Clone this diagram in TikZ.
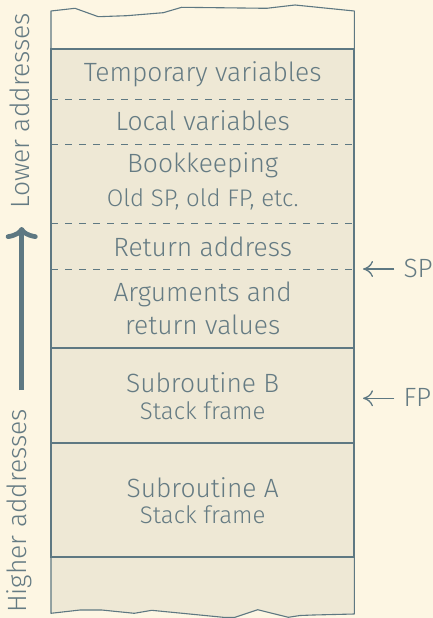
\documentclass[tikz,border=0pt]{standalone}
\usepackage{fontspec}
\setmainfont{Fira Sans}[UprightFont={* Light}]
\usetikzlibrary{arrows.meta}
\definecolor{paper}{HTML}{FDF6E3}
\definecolor{cell}{HTML}{EEE8D5}
\definecolor{ink}{HTML}{657B83}
\definecolor{rule}{HTML}{5E7882}
\begin{document}
\begin{tikzpicture}[x=1pt,y=-1pt,
  every node/.style={text=ink, inner sep=0pt},
  big/.style={font=\fontsize{26.4}{30}\selectfont, anchor=base},
  small/.style={font=\fontsize{24}{27}\selectfont, anchor=base},
  divider/.style={draw=rule, line width=1.8pt},
  dashdiv/.style={draw=rule, line width=1pt, dash pattern=on 7pt off 7pt},
  torn/.style={draw=rule, line width=1.1pt, line join=round},
  pointer/.style={draw=rule, line width=1.3pt,
    -{Computer Modern Rightarrow[length=10pt,width=16pt]}}]
\fill[paper] (0,0) rectangle (433,618);
\useasboundingbox (0,0) rectangle (433,618);

% torn-off continuation below the frames
\fill[cell] (51,557.3) -- (51,613.3) -- (80,610) -- (101.7,610) -- (134.3,613.3)
  -- (151.7,610.3) -- (223.3,617.3) -- (235,617.3) -- (257.7,609.7) -- (288.3,617.3)
  -- (300,615.5) -- (313.3,615) -- (354.3,614) -- (354.3,557.3) -- cycle;
\draw[torn] (51,557.3) -- (51,613.3) -- (80,610) -- (101.7,610) -- (134.3,613.3)
  -- (151.7,610.3) -- (223.3,617.3) -- (235,617.3) -- (257.7,609.7) -- (288.3,617.3)
  -- (300,615.5) -- (313.3,615) -- (354.3,614) -- (354.3,557.3);

% torn-off free space above the frames
\draw[torn] (51,49.3) -- (51,11) -- (75,8.3) -- (98.3,16.7) -- (126.7,15.7)
  -- (163.3,12.7) -- (181.7,7.3) -- (266.7,8.3) -- (295,5) -- (354.3,11) -- (354.3,49.3);

% stack body
\filldraw[fill=cell, divider] (51,49.3) rectangle (354.3,557.3);
\draw[divider] (51,347.7) -- (354.3,347.7);
\draw[divider] (51,443.3) -- (354.3,443.3);
\foreach \yy in {99.3,144.3,223.3,269}
  \draw[dashdiv] (51,\yy) -- (354.3,\yy);

% cell contents
\node[big]   (tmp)     at (202.7,81.7)  {Temporary variables};
\node[big]   (loc)     at (202.7,130)   {Local variables};
\node[big]   (book)    at (202.7,172)   {Bookkeeping};
\node[small] (booksub) at (202.7,206.7) {Old SP, old FP, etc.};
\node[big]   (ret)     at (202.7,256.7) {Return address};
\node[big]   (args)    at (202.7,301.7) {Arguments and};
\node[big]   (retv)    at (202.7,334)   {return values};
\node[big]   (subB)    at (202.7,392.7) {Subroutine B};
\node[small] (subBsub) at (202.7,419)   {Stack frame};
\node[big]   (subA)    at (202.7,497)   {Subroutine A};
\node[small] (subAsub) at (202.7,523.3) {Stack frame};

% address direction
\node[big, rotate=90] (lower)  at (29.5,111) {Lower addresses};
\node[big, rotate=90] (higher) at (26,511)   {Higher addresses};
\coordinate (dirTail) at (21.7,390);
\coordinate (dirTip)  at (21.7,227);
\draw[draw=rule, line width=4.7pt,
  -{Computer Modern Rightarrow[length=12pt,width=32pt]}] (dirTail) -- (dirTip);

% stack and frame pointers
\node[big, anchor=base west] (sp) at (403.3,277.3) {SP};
\node[big, anchor=base west] (fp) at (403.3,406.7) {FP};
\coordinate (spTip) at (363,269);
\coordinate (fpTip) at (363,398.3);
\draw[pointer] (sp.west |- spTip) ++(-9,0) -- (spTip);
\draw[pointer] (fp.west |- fpTip) ++(-9,0) -- (fpTip);
\end{tikzpicture}
\end{document}
